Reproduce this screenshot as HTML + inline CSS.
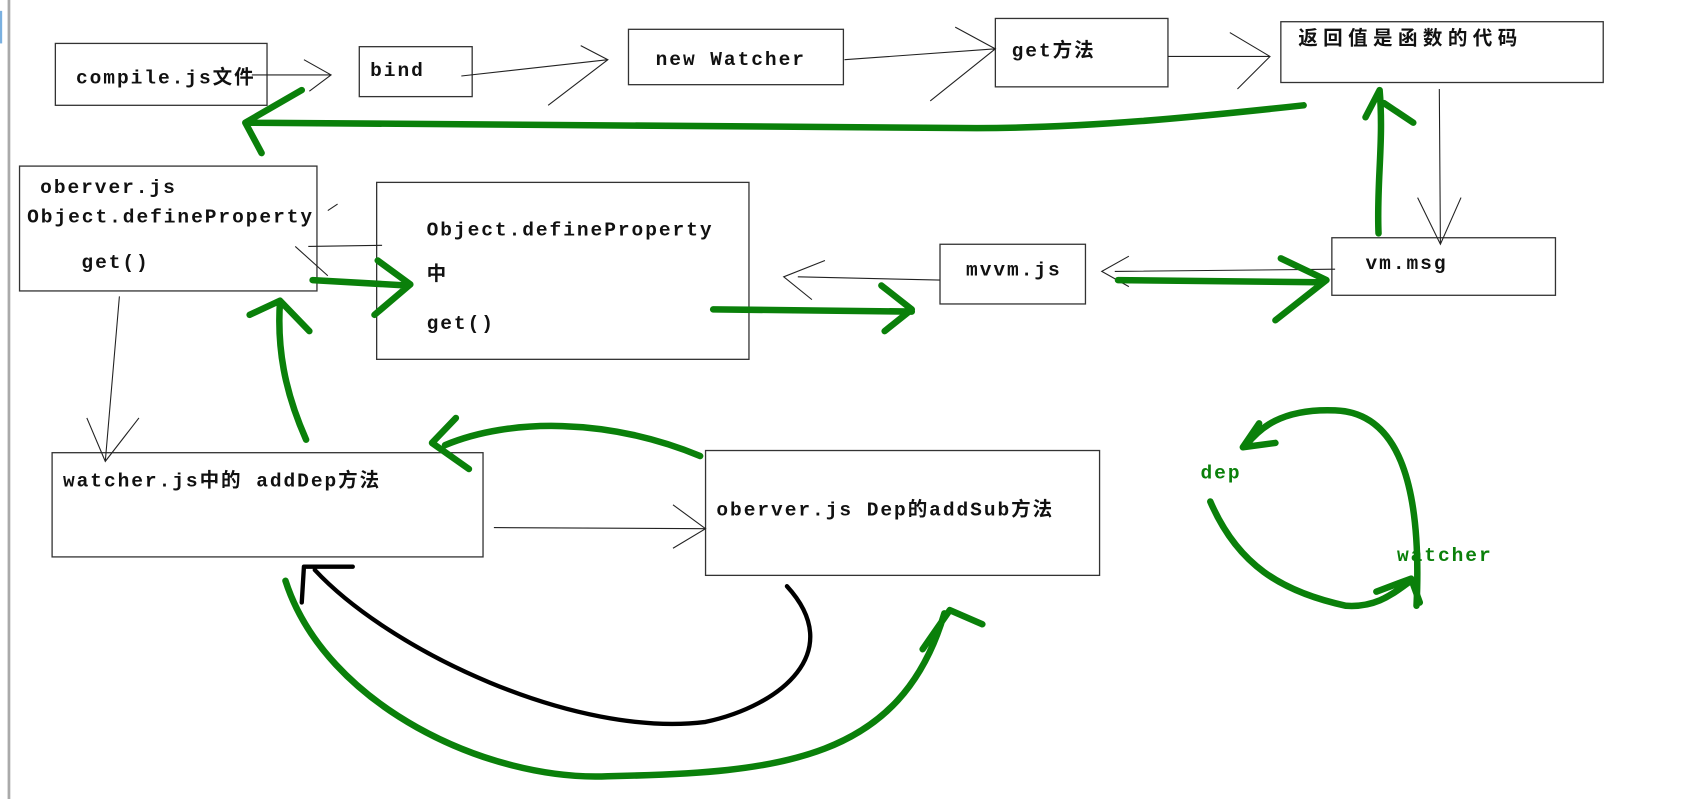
<!DOCTYPE html>
<html><head><meta charset="utf-8"><style>
html,body{margin:0;padding:0;background:#fff;width:1702px;height:799px;overflow:hidden}
svg{display:block}
text{font-family:"Liberation Mono","Noto Sans CJK SC",monospace;font-size:18px;font-weight:bold;fill:#111;letter-spacing:1.8px}
.c{letter-spacing:5px}
.b{fill:#fff;stroke:#333;stroke-width:1.2}
.t{fill:none;stroke:#222;stroke-width:1}
.g{fill:none;stroke:#0a800a;stroke-width:6;stroke-linecap:round;stroke-linejoin:round}
.k{fill:none;stroke:#000;stroke-width:4;stroke-linecap:round;stroke-linejoin:round}
</style></head><body>
<svg width="1702" height="799" viewBox="0 0 1568 736" preserveAspectRatio="none">
<rect x="0" y="0" width="1568" height="736" fill="#fff"/>
<rect x="7" y="0" width="2.5" height="736" fill="#aaa"/>
<rect x="0" y="10" width="2" height="30" fill="#7ab0e0"/>
<!-- boxes -->
<rect class="b" x="51" y="40" width="195" height="57"/>
<rect class="b" x="331" y="43" width="104" height="46"/>
<rect class="b" x="579" y="27" width="198" height="51"/>
<rect class="b" x="917" y="17" width="159" height="63"/>
<rect class="b" x="1180" y="20" width="297" height="56"/>
<rect class="b" x="18" y="153" width="274" height="115"/>
<rect class="b" x="347" y="168" width="343" height="163"/>
<rect class="b" x="866" y="225" width="134" height="55"/>
<rect class="b" x="1227" y="219" width="206" height="53"/>
<rect class="b" x="48" y="417" width="397" height="96"/>
<rect class="b" x="650" y="415" width="363" height="115"/>
<!-- thin arrows -->
<path class="t" d="M232,69 L305,69 M280,55 L305,69 L285,84"/>
<path class="t" d="M425,70 L560,55 M535,42 L560,55 L505,97"/>
<path class="t" d="M778,55 L917,45 M880,25 L917,45 L857,93"/>
<path class="t" d="M1076,52 L1170,52 M1133,30 L1170,52 L1140,82"/>
<path class="t" d="M1326,82 L1327,225 M1306,182 L1327,225 L1346,182"/>
<path class="t" d="M352,226 L284,227 M302,254 L272,227 M302,194 L311,188"/>
<path class="t" d="M866,258 L735,255 M760,240 L722,255 L748,276"/>
<path class="t" d="M1230,248 L1027,250 M1040,236 L1015,250 L1040,264"/>
<path class="t" d="M110,273 L97,425 M80,385 L97,425 L128,385"/>
<path class="t" d="M455,486 L650,487 M620,465 L650,487 L620,505"/>
<!-- green strokes -->
<path class="g" d="M1201,97 C1100,108 1000,118 900,118 L226,113 M278,83 L226,113 L241,141"/>
<path class="g" d="M1270,215 C1268,170 1275,130 1271,83 M1258,108 L1271,83 M1275,95 L1302,113"/>
<path class="g" d="M288,258 L375,263 M348,240 L378,262 L345,290"/>
<path class="g" d="M657,285 L840,287 M812,263 L840,285 L815,305"/>
<path class="g" d="M1030,258 L1215,260 M1180,238 L1222,258 L1175,295"/>
<path class="g" d="M282,405 C262,360 255,320 258,277 M230,290 L258,277 L285,305"/>
<path class="g" d="M645,420 C560,385 470,385 410,410 M420,385 L398,408 L432,432"/>
<path class="g" d="M263,535 C300,650 450,720 560,715 C720,712 830,700 870,565 M850,598 L875,562 L905,575"/>
<path class="g" d="M1305,558 C1310,450 1290,380 1230,378 C1180,376 1160,395 1148,410 M1160,390 L1145,412 L1175,408"/>
<path class="g" d="M1115,462 C1140,520 1180,545 1240,558 C1270,560 1285,545 1300,535 M1268,545 L1300,533 L1308,555"/>
<path class="k" d="M725,540 C780,600 720,650 650,665 C530,680 360,600 290,525 M278,555 L280,522 L325,522"/>
<!-- text -->
<text x="70" y="77">compile.js文件</text>
<text x="341" y="70">bind</text>
<text x="604" y="60">new Watcher</text>
<text x="932" y="52">get方法</text>
<text x="1196" y="41" class="c">返回值是函数的代码</text>
<text x="37" y="178">oberver.js</text>
<text x="25" y="205">Object.defineProperty</text>
<text x="75" y="247">get()</text>
<text x="393" y="217">Object.defineProperty</text>
<text x="393" y="258">中</text>
<text x="393" y="303">get()</text>
<text x="890" y="254">mvvm.js</text>
<text x="1258" y="248">vm.msg</text>
<text x="58" y="448">watcher.js中的 addDep方法</text>
<text x="660" y="475">oberver.js Dep的addSub方法</text>
<text x="1106" y="441" style="fill:#0a800a">dep</text>
<text x="1287" y="517" style="fill:#0a800a">watcher</text>
</svg>
</body></html>
